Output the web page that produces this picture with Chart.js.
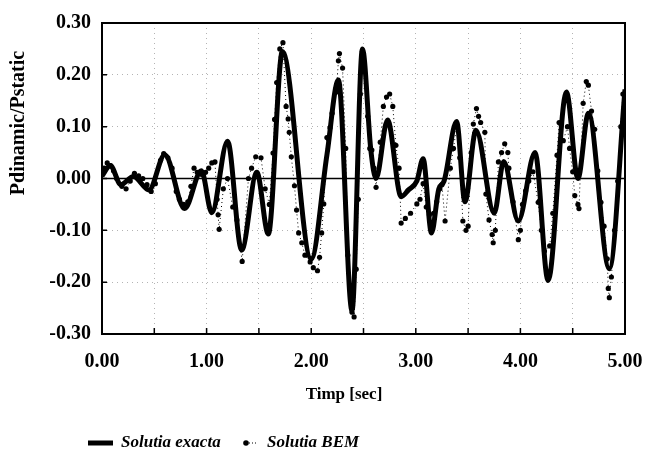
<!DOCTYPE html>
<html>
<head>
<meta charset="utf-8">
<script src="https://cdn.jsdelivr.net/npm/chart.js@4.4.0/dist/chart.umd.min.js"></script>
<style>
  html, body { margin: 0; padding: 0; background: #fff; }
  #wrap { width: 645px; height: 453px; }
</style>
</head>
<body>
<div id="wrap"><canvas id="chart" width="645" height="453"></canvas></div>
<script>
// exact solution (thick line): time [sec] and Pdinamic/Pstatic
var exactT = [0.00, 0.08, 0.18, 0.30, 0.45, 0.60, 0.79, 0.95, 1.05, 1.20, 1.335, 1.48, 1.59, 1.725, 2.00, 2.15, 2.26, 2.39, 2.49, 2.57, 2.62, 2.73, 2.86, 2.93, 3.01, 3.07, 3.15, 3.22, 3.27, 3.39, 3.47, 3.575, 3.75, 3.84, 3.98, 4.14, 4.265, 4.44, 4.55, 4.65, 4.85, 5.00];
var exactV = [0.005, 0.025, -0.012, 0.004, -0.022, 0.046, -0.058, 0.015, -0.066, 0.072, -0.138, 0.012, -0.107, 0.245, -0.155, 0.045, 0.190, -0.255, 0.250, 0.055, 0.000, 0.113, -0.035, -0.022, -0.005, 0.038, -0.105, -0.020, -0.005, 0.110, -0.045, 0.093, -0.067, 0.033, -0.082, 0.050, -0.197, 0.167, 0.000, 0.126, -0.174, 0.172];

// BEM solution (dots)
var bemT = [0.02, 0.05, 0.08, 0.11, 0.14, 0.19, 0.23, 0.27, 0.31, 0.35, 0.39, 0.43, 0.47, 0.51, 0.56, 0.59, 0.63, 0.67, 0.71, 0.74, 0.78, 0.82, 0.85, 0.88, 0.91, 0.95, 0.99, 1.02, 1.05, 1.08, 1.10, 1.11, 1.12, 1.16, 1.20, 1.25, 1.29, 1.34, 1.40, 1.43, 1.47, 1.52, 1.56, 1.60, 1.635, 1.65, 1.67, 1.70, 1.73, 1.76, 1.78, 1.79, 1.81, 1.84, 1.86, 1.88, 1.91, 1.94, 1.99, 2.02, 2.06, 2.08, 2.10, 2.12, 2.15, 2.18, 2.20, 2.24, 2.26, 2.27, 2.30, 2.33, 2.35, 2.39, 2.41, 2.43, 2.45, 2.47, 2.49, 2.54, 2.56, 2.58, 2.60, 2.62, 2.66, 2.69, 2.72, 2.75, 2.78, 2.81, 2.84, 2.86, 2.90, 2.95, 3.01, 3.04, 3.07, 3.10, 3.13, 3.15, 3.17, 3.20, 3.23, 3.25, 3.28, 3.33, 3.36, 3.39, 3.42, 3.45, 3.48, 3.50, 3.53, 3.55, 3.58, 3.60, 3.62, 3.66, 3.67, 3.70, 3.73, 3.74, 3.76, 3.79, 3.82, 3.85, 3.88, 3.89, 3.93, 3.98, 4.00, 4.02, 4.05, 4.08, 4.12, 4.17, 4.20, 4.23, 4.28, 4.31, 4.35, 4.37, 4.41, 4.45, 4.47, 4.50, 4.52, 4.55, 4.56, 4.60, 4.63, 4.65, 4.68, 4.71, 4.74, 4.77, 4.80, 4.83, 4.84, 4.85, 4.87, 4.90, 4.93, 4.96, 4.98];
var bemV = [0.020, 0.030, 0.025, 0.015, 0.000, -0.015, -0.020, -0.005, 0.010, 0.005, 0.000, -0.012, -0.025, -0.010, 0.035, 0.048, 0.040, 0.020, -0.025, -0.040, -0.050, -0.045, -0.015, 0.020, 0.012, 0.008, 0.012, 0.020, 0.030, 0.032, -0.040, -0.070, -0.098, -0.020, 0.000, -0.055, -0.080, -0.160, 0.000, 0.020, 0.042, 0.040, -0.020, -0.050, 0.049, 0.114, 0.185, 0.250, 0.262, 0.139, 0.115, 0.089, 0.042, -0.014, -0.061, -0.105, -0.124, -0.148, -0.161, -0.172, -0.178, -0.152, -0.105, -0.049, 0.079, 0.098, 0.126, 0.167, 0.227, 0.241, 0.213, 0.058, -0.148, -0.258, -0.267, -0.175, -0.040, 0.163, 0.245, 0.120, 0.058, 0.055, 0.020, -0.017, 0.070, 0.139, 0.157, 0.163, 0.139, 0.064, 0.020, -0.086, -0.077, -0.067, -0.049, -0.040, -0.010, -0.055, -0.070, -0.092, -0.067, -0.045, -0.020, -0.012, -0.082, 0.020, 0.058, 0.100, 0.040, -0.082, -0.100, -0.092, 0.050, 0.105, 0.135, 0.120, 0.108, 0.089, -0.030, -0.080, -0.108, -0.124, -0.100, 0.032, 0.050, 0.067, 0.050, 0.020, -0.045, -0.118, -0.100, -0.050, -0.024, -0.005, 0.013, -0.046, -0.100, -0.140, -0.130, -0.067, 0.045, 0.108, 0.073, 0.100, 0.058, 0.013, -0.033, -0.050, -0.058, 0.145, 0.187, 0.180, 0.130, 0.095, 0.015, -0.046, -0.092, -0.155, -0.212, -0.230, -0.190, -0.100, -0.005, 0.100, 0.163];

var xTicks = [0, 1, 2, 3, 4, 5];
var yTicks = [-0.3, -0.2, -0.1, 0, 0.1, 0.2, 0.3];
var xTitle = 'Timp [sec]';
var yTitle = 'Pdinamic/Pstatic';
var seriesNames = ['Solutia exacta', 'Solutia BEM'];

const serif = '"Liberation Serif", "DejaVu Serif", serif';

function toPoints(xs, ys) {
  var pts = [];
  for (var i = 0; i < xs.length; i++) pts.push({ x: xs[i], y: ys[i] });
  return pts;
}

function isMajor(v, list) {
  return list.some(function (t) { return Math.abs(t - v) < 1e-6; });
}

// frame, inward ticks, zero line, titles and legend
var decorations = {
  id: 'decorations',
  beforeDatasetsDraw(chart) {
    var ctx = chart.ctx;
    var a = chart.chartArea;
    var y0 = chart.scales.y.getPixelForValue(0);
    ctx.save();
    ctx.strokeStyle = '#000';
    ctx.lineWidth = 1.5;
    ctx.beginPath();
    ctx.moveTo(a.left, y0);
    ctx.lineTo(a.right, y0);
    ctx.stroke();
    ctx.restore();
  },
  afterDraw(chart) {
    var ctx = chart.ctx;
    var a = chart.chartArea;
    var xs = chart.scales.x, ys = chart.scales.y;
    ctx.save();
    ctx.strokeStyle = '#000';
    ctx.lineWidth = 2;
    ctx.strokeRect(a.left, a.top, a.right - a.left, a.bottom - a.top);

    ctx.lineWidth = 1.5;
    ctx.beginPath();
    ys.ticks.forEach(function (t) {
      var py = ys.getPixelForValue(t.value);
      ctx.moveTo(a.left, py);
      ctx.lineTo(a.left + 5, py);
    });
    xs.ticks.forEach(function (t) {
      var px = xs.getPixelForValue(t.value);
      ctx.moveTo(px, a.bottom);
      ctx.lineTo(px, a.bottom - 6);
    });
    ctx.stroke();

    // axis titles
    ctx.fillStyle = '#000';
    ctx.font = 'bold 17px ' + serif;
    ctx.textAlign = 'center';
    ctx.textBaseline = 'middle';
    ctx.fillText(xTitle, 344, 395);
    ctx.save();
    ctx.font = 'bold 20px ' + serif;
    ctx.translate(19, 123);
    ctx.rotate(-Math.PI / 2);
    ctx.fillText(yTitle, 0, 0);
    ctx.restore();

    // legend
    var ly = 443;
    ctx.lineWidth = 5;
    ctx.beginPath();
    ctx.moveTo(88, ly);
    ctx.lineTo(113, ly);
    ctx.stroke();
    ctx.font = 'italic bold 17px ' + serif;
    ctx.textAlign = 'left';
    ctx.fillText(seriesNames[0], 121, ly);
    ctx.beginPath();
    ctx.arc(246, ly, 2.8, 0, Math.PI * 2);
    ctx.fill();
    ctx.lineWidth = 1;
    ctx.setLineDash([1, 2]);
    ctx.beginPath();
    ctx.moveTo(249, ly);
    ctx.lineTo(258, ly);
    ctx.stroke();
    ctx.setLineDash([]);
    ctx.fillText(seriesNames[1], 267, ly);
    ctx.restore();
  }
};

Chart.defaults.color = '#000';
Chart.defaults.font.family = serif;

var ctx = document.getElementById('chart').getContext('2d');
var myChart = new Chart(ctx, {
  type: 'line',
  data: {
    datasets: [{
      label: seriesNames[1],
      data: toPoints(bemT, bemV),
      borderColor: '#000',
      backgroundColor: '#000',
      borderWidth: 1,
      borderDash: [1, 3],
      pointRadius: 2.6,
      pointBorderWidth: 0,
      tension: 0,
      order: 0
    }, {
      label: seriesNames[0],
      data: toPoints(exactT, exactV),
      borderColor: '#000',
      backgroundColor: '#000',
      borderWidth: 5,
      pointRadius: 0,
      cubicInterpolationMode: 'monotone',
      order: 1
    }]
  },
  options: {
    responsive: false,
    animation: false,
    layout: { padding: { left: 0, top: 14, right: 20, bottom: 0 } },
    plugins: {
      legend: { display: false },
      tooltip: { enabled: false }
    },
    scales: {
      x: {
        type: 'linear',
        min: 0,
        max: 5,
        afterFit: function (scale) {
          scale.height = 119;
          // label overflow is covered by the layout padding
          scale.paddingLeft = 0;
          scale.paddingRight = 0;
        },
        ticks: {
          stepSize: 0.5,
          padding: 16,
          maxRotation: 0,
          font: { size: 20, weight: 'bold' },
          callback: function (v) { return isMajor(v, xTicks) ? v.toFixed(2) : ''; }
        },
        grid: {
          drawTicks: false,
          color: '#b4b4b4',
          lineWidth: 1
        },
        border: { display: false, dash: [1, 4] }
      },
      y: {
        min: -0.3,
        max: 0.3,
        afterFit: function (scale) { scale.width = 102; },
        ticks: {
          stepSize: 0.05,
          padding: 11,
          font: { size: 20, weight: 'bold' },
          callback: function (v) { return isMajor(v, yTicks) ? v.toFixed(2) : ''; }
        },
        grid: {
          drawTicks: false,
          color: '#b4b4b4',
          lineWidth: 1
        },
        border: { display: false, dash: [1, 4] }
      }
    }
  },
  plugins: [decorations]
});
</script>
</body>
</html>
